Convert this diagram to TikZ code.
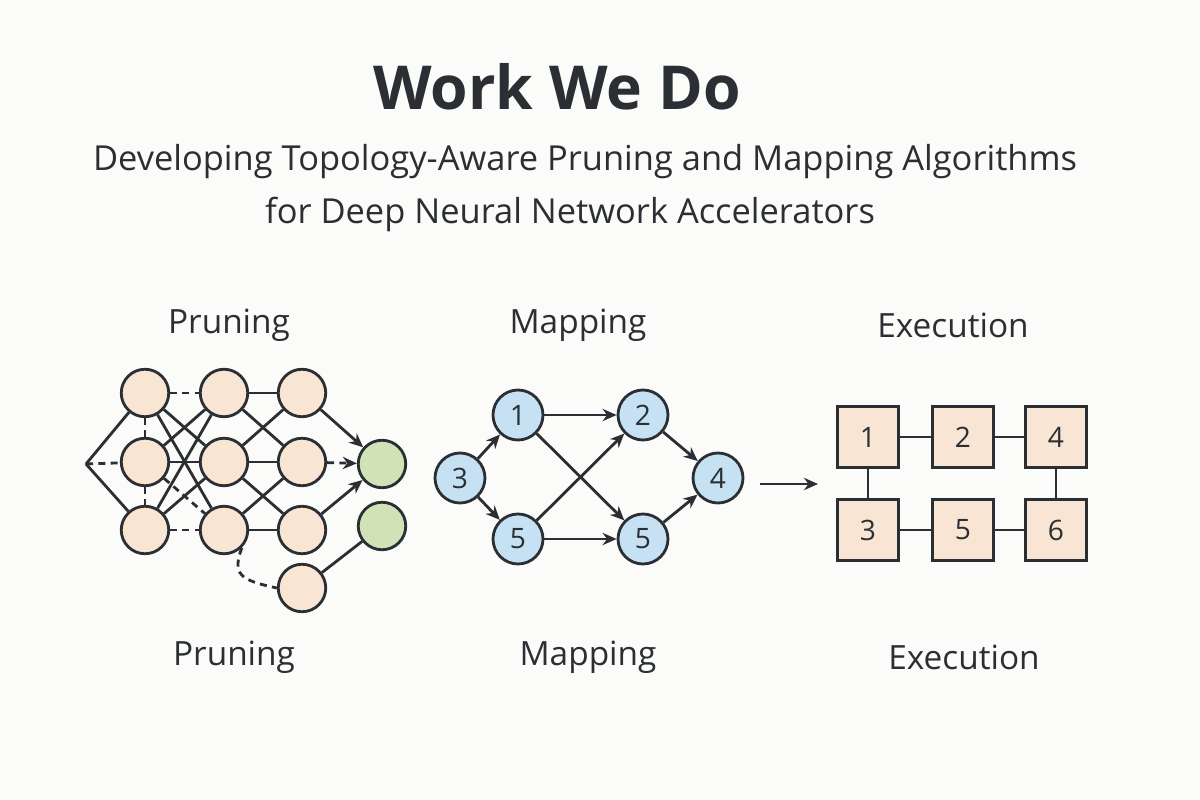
\documentclass[tikz,border=0pt]{standalone}
\usepackage{fontspec}
\setmainfont{Open Sans}
\usetikzlibrary{arrows.meta}
\definecolor{ink}{HTML}{2B2F33}
\definecolor{peach}{HTML}{F9E5D3}
\definecolor{leaf}{HTML}{CFE3B6}
\definecolor{sky}{HTML}{C6E1F3}
\definecolor{bg}{HTML}{FBFBFA}
\begin{document}
\begin{tikzpicture}[x=0.02cm,y=-0.02cm,
  line width=1.6pt, draw=ink, text=ink,
  neuron/.style={circle,draw=ink,fill=peach,minimum size=0.95cm,inner sep=0pt},
  outn/.style={circle,draw=ink,fill=leaf,minimum size=0.95cm,inner sep=0pt},
  mapn/.style={circle,draw=ink,fill=sky,minimum size=1.0cm,inner sep=0pt,font=\fontsize{16}{18}\selectfont},
  pe/.style={rectangle,draw=ink,fill=peach,minimum size=1.22cm,inner sep=0pt,font=\fontsize{16}{18}\selectfont},
  lbl/.style={font=\fontsize{19}{22}\selectfont},
  arr/.style={-{Stealth[length=8pt,width=7pt]}},
  dsh/.style={dashed,dash pattern=on 4pt off 3pt}]
\fill[bg] (0,0) rectangle (1200,800);
\useasboundingbox (0,0) rectangle (1200,800);
% titles
\node[font=\bfseries\fontsize{34.5}{40}\selectfont] (title) at (557,87) {Work We Do};
\node[font=\fontsize{19.6}{22}\selectfont] (sub1) at (585,162) {Developing Topology-Aware Pruning and Mapping Algorithms};
\node[font=\fontsize{19.6}{22}\selectfont] (sub2) at (570,214) {for Deep Neural Network Accelerators};
\node[lbl] (t1) at (229,325) {Pruning};
\node[lbl] (t2) at (578,325) {Mapping};
\node[lbl] (t3) at (953,325) {Execution};
\node[lbl] (b1) at (234,657) {Pruning};
\node[lbl] (b2) at (588,657) {Mapping};
\node[lbl] (b3) at (964,657) {Execution};
% pruning network
\coordinate (in) at (86,464);
\node[neuron] (a1) at (145,393) {};
\node[neuron] (a2) at (145,462) {};
\node[neuron] (a3) at (145,530) {};
\node[neuron] (b1n) at (224,393) {};
\node[neuron] (b2n) at (224,462) {};
\node[neuron] (b3n) at (224,530) {};
\node[neuron] (c1) at (302,393) {};
\node[neuron] (c2) at (302,462) {};
\node[neuron] (c3) at (302,530) {};
\node[neuron] (c4) at (302,588) {};
\node[outn] (o1) at (382,464) {};
\node[outn] (o2) at (382,526) {};
\draw (in) -- (a1);
\draw[dsh] (in) -- (a2);
\draw (in) -- (a3);
\draw[dsh] (a1) -- (a2);
\draw[dsh] (a2) -- (a3);
\draw[dsh] (a1) -- (b1n);
\draw (a1) -- (b2n);
\draw (a1) -- (b3n);
\draw (a2) -- (b1n);
\draw (a2) -- (b2n);
\draw[dsh] (a2) -- (b3n);
\draw (a3) -- (b1n);
\draw (a3) -- (b2n);
\draw[dsh] (a3) -- (b3n);
\draw (b1n) -- (c1);
\draw (b1n) -- (c2);
\draw (b2n) -- (c1);
\draw (b2n) -- (c2);
\draw (b2n) -- (c3);
\draw (b3n) -- (c2);
\draw (b3n) -- (c3);
\draw[dsh] (b3n.south east) .. controls (232,575) and (240,580) .. (c4.west);
\draw[arr] (c1) -- (o1);
\draw[arr,dsh] (c2) -- (o1);
\draw[arr] (c3) -- (o1);
\draw (c4) -- (o2);
% mapping graph
\node[mapn] (m3) at (460,478) {3};
\node[mapn] (m1) at (518,415) {1};
\node[mapn] (m2) at (643,415) {2};
\node[mapn] (m4) at (718,478) {4};
\node[mapn] (m5a) at (518,539) {5};
\node[mapn] (m5b) at (643,539) {5};
\draw[arr] (m3) -- (m1);
\draw[arr] (m3) -- (m5a);
\draw[arr] (m1) -- (m2);
\draw[arr] (m1) -- (m5b);
\draw[arr] (m5a) -- (m2);
\draw[arr] (m5a) -- (m5b);
\draw[arr] (m2) -- (m4);
\draw[arr] (m5b) -- (m4);
\coordinate (as) at (760,484);
\coordinate (ae) at (818,484);
\draw[arr] (as) -- (ae);
% execution grid
\node[pe] (e1) at (868,437) {1};
\node[pe] (e2) at (963,437) {2};
\node[pe] (e4) at (1056,437) {4};
\node[pe] (e3) at (868,530) {3};
\node[pe] (e5) at (963,530) {5};
\node[pe] (e6) at (1056,530) {6};
\draw (e1) -- (e2);
\draw (e2) -- (e4);
\draw (e1) -- (e3);
\draw (e4) -- (e6);
\draw (e3) -- (e5);
\draw (e5) -- (e6);
\end{tikzpicture}
\end{document}
